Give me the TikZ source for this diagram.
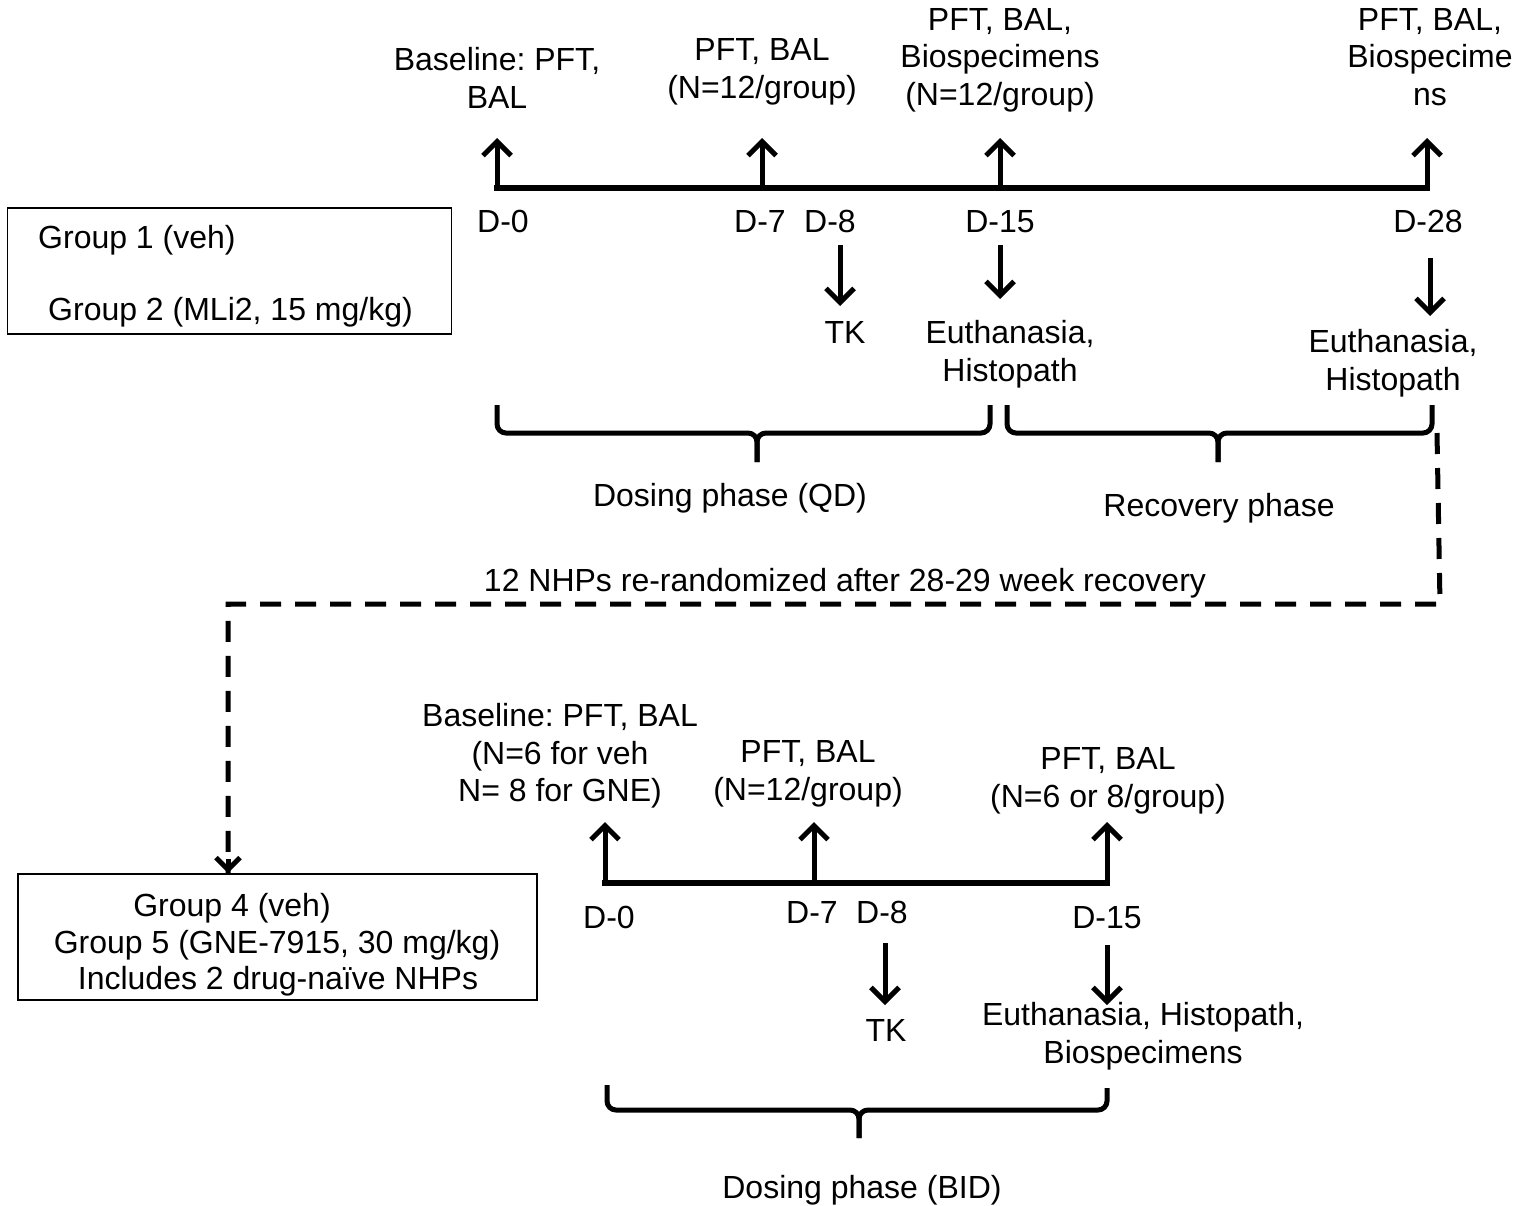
\documentclass[tikz,border=0pt]{standalone}
\usepackage{fontspec}
\setmainfont{Liberation Sans}
\usetikzlibrary{arrows.meta}
\frenchspacing
\begin{document}
\begin{tikzpicture}[x=1pt,y=-1pt,
  lbl/.style={font=\fontsize{32}{37.5}\selectfont, align=center, inner sep=0pt},
  arr/.style={line width=5pt, -{Straight Barb[length=14pt,width=28pt]}},
  tline/.style={line width=5.5pt, line cap=rect},
  brace/.style={line width=5pt, rounded corners=9pt},
  dashln/.style={line width=5pt, dash pattern=on 21pt off 14pt},
  grpbox/.style={draw, line width=1.8pt, inner sep=0pt}]
\useasboundingbox (0,0) rectangle (1522,1205);

% ---------- top timeline ----------
\coordinate (a0) at (497,188);
\coordinate (a7) at (762,188);
\coordinate (a15) at (1000,188);
\coordinate (a28) at (1427,188);
\coordinate (upA) at (0,138);
\draw[tline] (a0) -- (a28);
\draw[arr] (a0) -- (a0 |- upA);
\draw[arr] (a7) -- (a7 |- upA);
\draw[arr] (a15) -- (a15 |- upA);
\draw[arr] (a28) -- (a28 |- upA);

\node[lbl] (base0) at (497,78) {Baseline: PFT,\\BAL};
\node[lbl] (pft7) at (762,72) {PFT, BAL\\(N=12/group)};
\node[lbl] (pft15) at (1000,60) {PFT, BAL,\\Biospecimens\\(N=12/group)};
\node[lbl] (pft28) at (1430,57) {PFT, BAL,\\Biospecime\\ns};

\node[lbl, anchor=base] (d0) at (503,232) {D-0};
\node[lbl, anchor=base] (d7) at (760,232) {D-7};
\node[lbl, anchor=base] (d8) at (830,232) {D-8};
\node[lbl, anchor=base] (d15) at (1000,232) {D-15};
\node[lbl, anchor=base] (d28) at (1428,232) {D-28};

\coordinate (k8s) at (840,245);   \coordinate (k8e) at (840,306);
\coordinate (k15s) at (1000,245); \coordinate (k15e) at (1000,299);
\coordinate (k28s) at (1430,258); \coordinate (k28e) at (1430,316);
\draw[arr] (k8s) -- (k8e);
\draw[arr] (k15s) -- (k15e);
\draw[arr] (k28s) -- (k28e);

\node[lbl, anchor=base] (tk1) at (845,343) {TK};
\node[lbl] (eu15) at (1010,354) {Euthanasia,\\Histopath};
\node[lbl] (eu28) at (1393,363) {Euthanasia,\\Histopath};

% braces
\draw[brace] (497,405) |- (757,433) -- (757,462);
\draw[brace] (990,405) |- (757,433) -- (757,462);
\draw[brace] (1007,405) |- (1218,433) -- (1218,462);
\draw[brace] (1432,405) |- (1218,433) -- (1218,462);

\node[lbl, anchor=base] (qd) at (730,506) {Dosing phase (QD)};
\node[lbl, anchor=base] (rec) at (1219,516) {Recovery phase};
\node[lbl, anchor=base] (rerand) at (845,591) {12 NHPs re-randomized after 28-29 week recovery};

% group box 1
\node[grpbox, minimum width=444pt, minimum height=126pt] (box1) at (229.5,271) {};
\node[lbl, anchor=base west] (g1) at (38,248) {Group 1 (veh)};
\node[lbl, anchor=base west] (g2) at (48,320) {Group 2 (MLi2, 15 mg/kg)};

% group box 2
\node[grpbox, minimum width=519pt, minimum height=126pt] (box2) at (277.5,937) {};
\node[lbl, anchor=base] (g4) at (232,916) {Group 4 (veh)};
\node[lbl, anchor=base] (g5) at (277,953) {Group 5 (GNE-7915, 30 mg/kg)};
\node[lbl, anchor=base] (g6) at (278,989) {Includes 2 drug-naïve NHPs};

% dashed connector
\coordinate (rb) at (1437,433);
\coordinate (dc1) at (1440,604);
\coordinate (dc2) at (228,604);
\draw[dashln] (rb) -- (dc1) -- (dc2) -- (dc2 |- box2.north);
\draw[line width=5pt, -{Straight Barb[length=12pt,width=24pt]}] ([yshift=14pt]dc2 |- box2.north) -- (dc2 |- box2.north);

% ---------- bottom timeline ----------
\coordinate (b0) at (605,883);
\coordinate (b7) at (814,883);
\coordinate (b15) at (1107,883);
\coordinate (upB) at (0,822);
\draw[tline] (b0) -- (b15);
\draw[arr] (b0) -- (b0 |- upB);
\draw[arr] (b7) -- (b7 |- upB);
\draw[arr] (b15) -- (b15 |- upB);

\node[lbl] (bbase) at (560,756) {Baseline: PFT, BAL\\(N=6 for veh\\N= 8 for GNE)};
\node[lbl] (bpft7) at (808,774) {PFT, BAL\\(N=12/group)};
\node[lbl] (bpft15) at (1108,781) {PFT, BAL\\(N=6 or 8/group)};

\node[lbl, anchor=base] (e0) at (609,928) {D-0};
\node[lbl, anchor=base] (e7) at (812,923) {D-7};
\node[lbl, anchor=base] (e8) at (882,923) {D-8};
\node[lbl, anchor=base] (e15) at (1107,928) {D-15};

\coordinate (m8s) at (885,943);   \coordinate (m8e) at (885,1005);
\coordinate (m15s) at (1107,945); \coordinate (m15e) at (1107,1005);
\draw[arr] (m8s) -- (m8e);
\draw[arr] (m15s) -- (m15e);

\node[lbl, anchor=base] (tk2) at (886,1041) {TK};
\node[lbl] (euB) at (1143,1036) {Euthanasia, Histopath,\\Biospecimens};

\draw[brace] (607,1085) |- (859,1110) -- (859,1138);
\draw[brace] (1107,1088) |- (859,1110) -- (859,1138);

\node[lbl, anchor=base] (bid) at (862,1198) {Dosing phase (BID)};
\end{tikzpicture}
\end{document}
